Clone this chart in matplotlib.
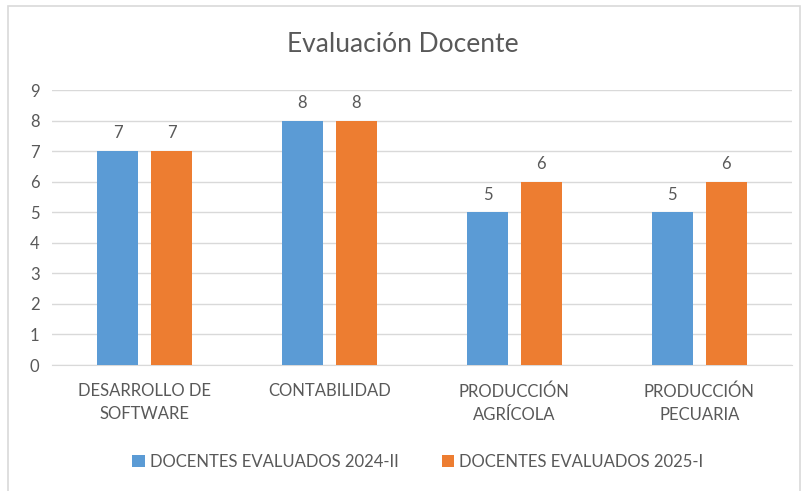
import matplotlib.pyplot as plt
import numpy as np
from matplotlib.patches import Rectangle

categories = ['DESARROLLO DE\nSOFTWARE', 'CONTABILIDAD', 'PRODUCCIÓN\nAGRÍCOLA', 'PRODUCCIÓN\nPECUARIA']
serie_2024 = [7, 8, 5, 5]
serie_2025 = [7, 8, 6, 6]
labels = ['DOCENTES EVALUADOS 2024-II', 'DOCENTES EVALUADOS 2025-I']

gris = '#595959'
plt.rcParams['font.family'] = ['Lato', 'DejaVu Sans']

fig = plt.figure(figsize=(8.06, 4.91), dpi=100)
ax = fig.add_axes([0.0645, 0.2566, 0.918, 0.560])

# marco del grafico (sin borde inferior visible)
fig.patches.append(Rectangle((8/806, -0.05), 792/806, 0.05 + 485/491, transform=fig.transFigure,
                             fill=False, edgecolor='#D9D9D9', linewidth=1.2))

x = np.arange(len(categories))
w = 0.222
off = 0.146
b1 = ax.bar(x - off, serie_2024, w, color='#5B9BD5', label=labels[0], zorder=3)
b2 = ax.bar(x + off, serie_2025, w, color='#ED7D31', label=labels[1], zorder=3)
for bars in (b1, b2):
    ax.bar_label(bars, padding=7, color=gris, fontsize=12)

ax.set_xlim(-0.5, 3.5)
ax.set_ylim(0, 9)
ax.set_yticks(range(0, 10))
ax.set_xticks(x)
ax.set_xticklabels(categories, linespacing=1.55)
ax.tick_params(axis='both', length=0, colors=gris, labelsize=12)
ax.tick_params(axis='x', pad=13)
ax.tick_params(axis='y', pad=9)
ax.grid(axis='y', color='#D9D9D9', linewidth=1, zorder=0)
for s in ['top', 'right', 'left']:
    ax.spines[s].set_visible(False)
ax.spines['bottom'].set_color('#D9D9D9')

fig.text(0.5, 1 - 45/491, 'Evaluación Docente', ha='center', va='center', fontsize=19, color=gris)
fig.legend(loc='center', bbox_to_anchor=(418/806, 1 - 462/491), ncol=2, frameon=False,
           fontsize=12, labelcolor=gris, handlelength=0.75, handleheight=0.75,
           handletextpad=0.3, columnspacing=2.6)

plt.savefig('out.png', dpi=100)
